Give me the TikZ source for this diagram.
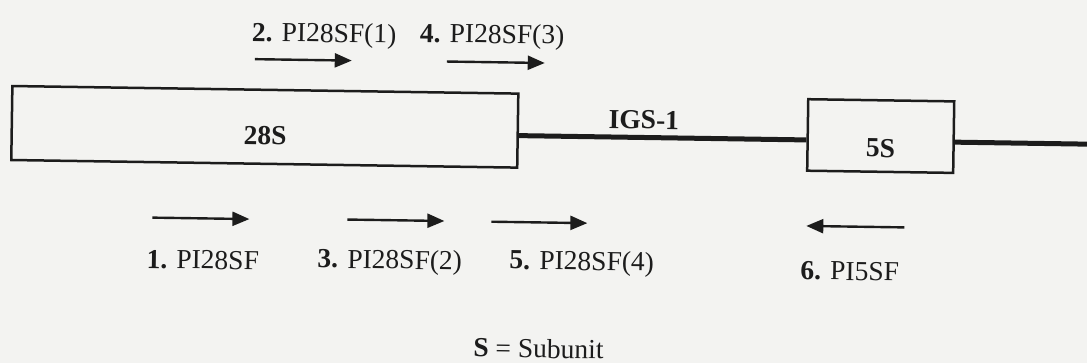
\documentclass[tikz,border=0pt]{standalone}
\usepackage{fontspec}
\setmainfont{Liberation Serif}
\usetikzlibrary{arrows.meta}
\definecolor{paper}{RGB}{243,243,241}
\definecolor{ink}{RGB}{28,28,28}
\newcommand{\lblsize}{\fontsize{27.5}{33}\selectfont}
\begin{document}
\begin{tikzpicture}[x=1pt,y=-1pt,
  every node/.style={font=\lblsize, text=ink},
  gene/.style={draw=ink, line width=2.5pt, inner sep=0pt},
  genename/.style={font=\lblsize\bfseries, inner sep=0pt},
  spacer/.style={draw=ink, line width=5pt},
  primer/.style={draw=ink, line width=2.4pt, -{Triangle[length=17pt,width=14pt]}},
  plabel/.style={anchor=base, inner sep=0pt}]

% page
\fill[paper] (0,0) rectangle (1087,363);
\useasboundingbox (0,0) rectangle (1087,363);

\begin{scope}[rotate around={-0.86:(543.5,181.5)}, transform shape]
  % genes
  \node[gene, minimum width=506pt, minimum height=74pt] (b28) at (264,131) {};
  \node[genename] (t28) at (264.5,140) {28S};
  \node[gene, minimum width=146pt, minimum height=71.5pt] (b5) at (880,131) {};
  \node[genename] (t5) at (880,143) {5S};

  % intergenic spacer
  \coordinate (tail) at (1095,136);
  \draw[spacer] ([yshift=-5pt]b28.east) -- ([yshift=-5pt]b5.west);
  \draw[spacer] ([yshift=-5pt]b5.east) -- (tail);
  \node[genename, anchor=base] (igs) at (643,127.5) {IGS-1};

  % primers above the map
  \coordinate (a2s) at (253,63.5); \coordinate (a2e) at (350,63.5);
  \coordinate (a4s) at (445,63);   \coordinate (a4e) at (543,63);
  \draw[primer] (a2s) -- (a2e);
  \draw[primer] (a4s) -- (a4e);
  \node[plabel] (p2) at (322,45.5) {\textbf{2.} PI28SF(1)};
  \node[plabel] (p4) at (490,44) {\textbf{4.} PI28SF(3)};

  % primers below the map
  \coordinate (a1s) at (153,223.5); \coordinate (a1e) at (250,223.5);
  \coordinate (a3s) at (348,222.5); \coordinate (a3e) at (445,222.5);
  \coordinate (a5s) at (492,222.5); \coordinate (a5e) at (588,222.5);
  \coordinate (a6s) at (905,222); \coordinate (a6e) at (807,222);
  \draw[primer] (a1s) -- (a1e);
  \draw[primer] (a3s) -- (a3e);
  \draw[primer] (a5s) -- (a5e);
  \draw[primer] (a6s) -- (a6e);
  \node[plabel] (p1) at (204,274) {\textbf{1.} PI28SF};
  \node[plabel] (p3) at (391,271) {\textbf{3.} PI28SF(2)};
  \node[plabel] (p5) at (583,269.5) {\textbf{5.} PI28SF(4)};
  \node[plabel] (p6) at (851,275.5) {\textbf{6.} PI5SF};

  % key
  \node[plabel] (key) at (541,358) {\textbf{S} = Subunit};
\end{scope}
\end{tikzpicture}
\end{document}
